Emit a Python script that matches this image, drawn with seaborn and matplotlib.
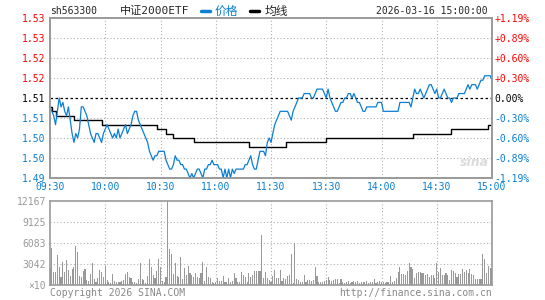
import numpy as np
import pandas as pd
import matplotlib
matplotlib.use("Agg")
import matplotlib.pyplot as plt
import seaborn as sns
from matplotlib.lines import Line2D

# ---- data ----
code = "sh563300"
name = "中证2000ETF"
stamp = "2026-03-16 15:00:00"
prev_close = 1.513
pct_max = 1.19

time_labels = ["09:30", "10:00", "10:30", "11:00", "11:30", "13:30", "14:00", "14:30", "15:00"]
price_labels = ["1.53", "1.53", "1.52", "1.52", "1.51", "1.51", "1.50", "1.50", "1.49"]   # top -> bottom
pct_labels = ["+1.19%", "+0.89%", "+0.60%", "+0.30%", "0.00%", "-0.30%", "-0.60%", "-0.89%", "-1.19%"]
vol_labels = ["12167", "9125", "6083", "3042", "×10"]   # top -> bottom
vol_ticks = [12167, 9125, 6083, 3042, 0]

# one value per minute, 09:30 .. 15:00 (241 points)
price = [
    1.511, 1.510, 1.509, 1.507, 1.510, 1.513, 1.511, 1.512, 1.510, 1.509,
    1.511, 1.508, 1.505, 1.503, 1.505, 1.504, 1.506, 1.511, 1.511, 1.510,
    1.509, 1.507, 1.505, 1.504, 1.503, 1.505, 1.505, 1.504, 1.503, 1.505,
    1.506, 1.507, 1.506, 1.505, 1.504, 1.505, 1.504, 1.506, 1.504, 1.505,
    1.506, 1.507, 1.505, 1.506, 1.507, 1.509, 1.510, 1.510, 1.508, 1.507,
    1.506, 1.505, 1.504, 1.503, 1.501, 1.500, 1.499, 1.500, 1.500, 1.501,
    1.501, 1.501, 1.501, 1.499, 1.498, 1.497, 1.497, 1.498, 1.500, 1.499,
    1.499, 1.498, 1.498, 1.497, 1.497, 1.496, 1.495, 1.496, 1.495, 1.496,
    1.497, 1.497, 1.496, 1.495, 1.497, 1.497, 1.498, 1.498, 1.499, 1.498,
    1.498, 1.498, 1.497, 1.497, 1.495, 1.497, 1.495, 1.497, 1.495, 1.497,
    1.496, 1.497, 1.497, 1.497, 1.497, 1.497, 1.498, 1.498, 1.499, 1.500,
    1.498, 1.497, 1.497, 1.499, 1.501, 1.501, 1.501, 1.500, 1.503, 1.504,
    1.503, 1.505, 1.507, 1.508, 1.509, 1.510, 1.510, 1.510, 1.510, 1.510,
    1.509, 1.508, 1.510, 1.511, 1.512, 1.513, 1.513, 1.513, 1.514, 1.514,
    1.514, 1.514, 1.513, 1.513, 1.514, 1.515, 1.515, 1.515, 1.515, 1.514,
    1.513, 1.515, 1.513, 1.512, 1.511, 1.510, 1.510, 1.511, 1.512, 1.512,
    1.513, 1.513, 1.514, 1.514, 1.513, 1.514, 1.513, 1.512, 1.512, 1.511,
    1.510, 1.510, 1.511, 1.511, 1.511, 1.511, 1.511, 1.511, 1.512, 1.512,
    1.512, 1.510, 1.510, 1.510, 1.510, 1.510, 1.510, 1.510, 1.510, 1.510,
    1.512, 1.512, 1.512, 1.512, 1.512, 1.512, 1.511, 1.513, 1.515, 1.514,
    1.514, 1.515, 1.514, 1.513, 1.514, 1.515, 1.516, 1.516, 1.515, 1.514,
    1.515, 1.513, 1.513, 1.514, 1.515, 1.514, 1.513, 1.513, 1.512, 1.513,
    1.513, 1.513, 1.514, 1.514, 1.514, 1.514, 1.515, 1.516, 1.515, 1.516,
    1.516, 1.516, 1.515, 1.516, 1.517, 1.517, 1.518, 1.518, 1.518, 1.518,
    1.517,
]

vol = [
    2500, 5400, 1930, 1930, 4350, 2650, 1200, 3380, 1930, 3620,
    2170, 1350, 2320, 2650, 5700, 4830, 1300, 1200, 2030, 2320,
    720, 580, 1590, 3140, 870, 390, 970, 2170, 1840, 1200,
    2800, 720, 390, 240, 1590, 580, 480, 480, 390, 580,
    720, 1590, 1930, 1200, 970, 390, 390, 240, 870, 3140,
    870, 720, 240, 1300, 3770, 2650, 1450, 970, 2030, 3770,
    2650, 580, 390, 1200, 12167, 5200, 4440, 1550, 3140, 1300,
    1200, 4100, 870, 2500, 1450, 2800, 1690, 1450, 1200, 1690,
    1200, 1060, 1790, 3380, 580, 2650, 1200, 970, 390, 240,
    390, 970, 580, 580, 1300, 390, 390, 970, 390, 580,
    1690, 970, 480, 390, 1840, 1450, 1200, 390, 1690, 1200,
    1450, 2080, 2030, 2030, 2030, 7250, 1060, 1840, 970, 720,
    480, 1300, 2170, 970, 1060, 2170, 580, 1060, 870, 1350,
    1450, 4440, 340, 6040, 870, 720, 480, 480, 1450, 390,
    720, 720, 580, 720, 2650, 1300, 390, 480, 390, 580,
    720, 1110, 720, 580, 720, 870, 870, 240, 870, 390,
    240, 390, 580, 240, 390, 580, 390, 580, 240, 390,
    480, 390, 580, 240, 390, 390, 870, 240, 390, 580,
    390, 390, 240, 390, 480, 1300, 390, 580, 1060, 1840,
    2650, 1590, 1550, 1450, 2030, 3140, 2650, 2320, 1060, 1790,
    1840, 1930, 1690, 1790, 1450, 1550, 1200, 1450, 1450, 1060,
    3140, 1840, 2400, 1450, 1450, 1790, 1450, 720, 2170, 2030,
    1790, 1200, 1550, 1590, 2320, 1840, 2170, 1690, 2320, 1590,
    1450, 820, 820, 820, 820, 4500, 3780, 1790, 2760, 2470,
    2400,
]

# average line, as steps: minute where each level starts
avg_minute = [0, 1, 3, 13, 28, 58, 63, 67, 78, 108, 128, 150, 197, 218, 238, 240]
avg_value = [1.511, 1.510, 1.509, 1.508, 1.507, 1.506, 1.505, 1.504, 1.503,
             1.502, 1.503, 1.504, 1.505, 1.506, 1.507, 1.507]

BLUE = "#0a7fd4"
RED = "#ff0000"
GRAY = "#999999"
GRID = "#b0b0b0"
MONO = ["DejaVu Sans Mono", "Noto Sans CJK SC"]

sns.set_theme(style="white")
plt.rcParams["font.family"] = MONO

W, H = 545, 300
fig = plt.figure(figsize=(W / 100, H / 100), dpi=100)


def box(x0, y0, x1, y1):
    return [x0 / W, 1 - y1 / H, (x1 - x0) / W, (y1 - y0) / H]


ax = fig.add_axes(box(50, 18, 492, 178))
axv = fig.add_axes(box(50, 201, 492, 285))

df = pd.DataFrame({"minute": np.arange(len(price)), "price": price, "vol": vol})
n_min = len(price) - 1
time_pos = np.linspace(0, n_min, len(time_labels))

# ---- price panel ----
lo = prev_close * (1 - pct_max / 100)
hi = prev_close * (1 + pct_max / 100)
yt = np.linspace(lo, hi, len(price_labels))

for t in time_pos[1:-1]:
    ax.axvline(t, color=GRID, ls=(0, (1, 2)), lw=0.8, zorder=0)
for i, y in enumerate(yt[1:-1]):
    if i != 3:
        ax.axhline(y, color=GRID, ls=(0, (1, 2)), lw=0.8, zorder=0)
ax.axhline(prev_close, color="black", ls=(0, (2, 2)), lw=0.9, zorder=1)

sns.lineplot(data=df, x="minute", y="price", ax=ax, color=BLUE, lw=0.9, zorder=3)
sns.lineplot(x=avg_minute, y=avg_value, ax=ax, color="black", lw=1.0,
             drawstyle="steps-post", zorder=2)

ax.set_xlim(0, n_min)
ax.set_ylim(lo, hi)
ax.set_xlabel("")
ax.set_ylabel("")
ax.set_yticks(yt)
ax.set_yticklabels(price_labels[::-1])
ax.set_xticks(time_pos)
ax.set_xticklabels(time_labels)
ax.tick_params(axis="both", length=0, labelsize=7)
ax.tick_params(axis="y", pad=3)
ax.tick_params(axis="x", pad=3, labelcolor=BLUE)

colors = [BLUE] * 4 + ["black"] + [RED] * 4   # bottom -> top
for lab, c in zip(ax.get_yticklabels(), colors):
    lab.set_color(c)

axr = ax.twinx()
axr.set_ylim(lo, hi)
axr.set_yticks(yt)
axr.set_yticklabels(pct_labels[::-1])
axr.tick_params(axis="y", length=0, labelsize=7, pad=2)
for lab, c in zip(axr.get_yticklabels(), colors):
    lab.set_color(c)
axr.grid(False)

for a in (ax, axr, axv):
    for s in a.spines.values():
        s.set_color(GRAY)
        s.set_linewidth(1.2)

# ---- volume panel ----
for t in time_pos[1:-1]:
    axv.axvline(t, color=GRID, ls=(0, (1, 2)), lw=0.8, zorder=0)
for y in vol_ticks[1:-1]:
    axv.axhline(y, color=GRID, ls=(0, (1, 2)), lw=0.8, zorder=0)

sns.barplot(data=df, x="minute", y="vol", ax=axv, color=GRAY, native_scale=True,
            width=0.6, errorbar=None, linewidth=0, saturation=1, zorder=2,
            antialiased=False)
axv.set_xlim(0, n_min)
axv.set_ylim(0, max(vol_ticks))
axv.set_xlabel("")
axv.set_ylabel("")
axv.set_xticks(time_pos)
axv.set_xticklabels([])
axv.set_yticks(vol_ticks)
axv.set_yticklabels(vol_labels)
axv.tick_params(axis="both", length=0, labelsize=7, labelcolor=GRAY)
axv.tick_params(axis="y", pad=3)

# ---- header / footer ----
hy = 1 - 11 / H
fig.text(50 / W, hy, code, fontsize=7, va="center", ha="left")
fig.text(120 / W, hy, name, fontsize=8, va="center", ha="left")
fig.add_artist(Line2D([201 / W, 210 / W], [hy, hy], transform=fig.transFigure, color=BLUE, lw=2.5))
fig.text(215 / W, hy, "价格", fontsize=8.5, va="center", ha="left", color=BLUE)
fig.add_artist(Line2D([250 / W, 259 / W], [hy, hy], transform=fig.transFigure, color="black", lw=2.5))
fig.text(265 / W, hy, "均线", fontsize=8.5, va="center", ha="left")
fig.text(488 / W, hy, stamp, fontsize=7, va="center", ha="right")

fy = 1 - 293 / H
fig.text(50 / W, fy, "Copyright 2026 SINA.COM", fontsize=7, color="#888888", va="center", ha="left")
fig.text(492 / W, fy, "http://finance.sina.com.cn", fontsize=7, color="#888888", va="center", ha="right")

fig.text(474 / W, 1 - 163 / H, "sina", fontsize=9, color="#dcdcdc", style="italic",
         weight="bold", va="center", ha="center", family="DejaVu Sans")

fig.savefig("out.png", dpi=100)
